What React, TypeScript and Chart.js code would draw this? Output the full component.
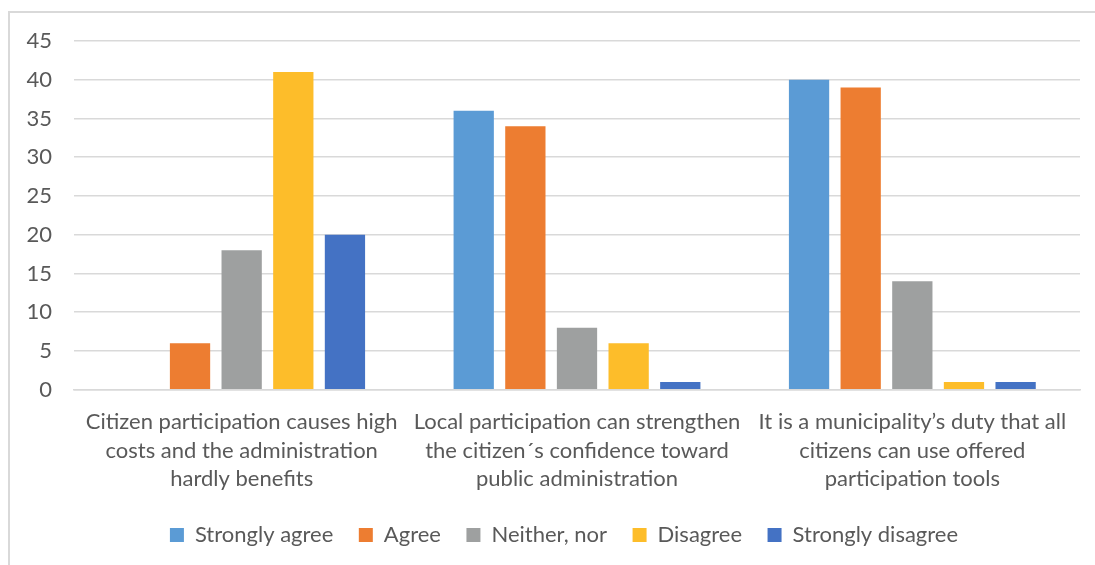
import React, { useEffect, useRef } from "react";
import { Chart, registerables } from "chart.js";

Chart.register(...registerables);

const categories: string[][] = [
  ["Citizen participation causes high", "costs and the administration", "hardly benefits"],
  ["Local participation can strengthen", "the citizen´s confidence toward", "public administration"],
  ["It is a municipality’s duty that all", "citizens can use offered", "participation tools"],
];

const seriesNames = ["Strongly agree", "Agree", "Neither, nor", "Disagree", "Strongly disagree"];
const stronglyAgree = [0, 36, 40];
const agree = [6, 34, 39];
const neitherNor = [18, 8, 14];
const disagree = [41, 6, 1];
const stronglyDisagree = [20, 1, 1];
const seriesColors = ["#5B9BD5", "#ED7D31", "#9EA0A0", "#FDBD2A", "#4472C4"];

const FONT = "Lato, 'Open Sans', sans-serif";

const legendShift = {
  id: "legendShift",
  afterLayout(chart: any) {
    if (chart.legend) {
      chart.legend.left += 19;
      chart.legend.right += 19;
    }
  },
};

export default function App() {
  const ref = useRef<HTMLCanvasElement | null>(null);
  useEffect(() => {
    document.body.style.overflow = "hidden";
    const values = [stronglyAgree, agree, neitherNor, disagree, stronglyDisagree];
    const chart = new Chart(ref.current!, {
      type: "bar",
      data: {
        labels: categories,
        datasets: seriesNames.map((n, i) => ({
          label: n,
          data: values[i],
          backgroundColor: seriesColors[i],
          barPercentage: 0.78,
          categoryPercentage: 0.77,
        })),
      },
      plugins: [legendShift],
      options: {
        animation: false,
        responsive: false,
        maintainAspectRatio: false,
        layout: { padding: { top: 28, right: 10, left: 0, bottom: 7 } },
        plugins: {
          tooltip: { enabled: false },
          legend: {
            position: "bottom",
            labels: {
              boxWidth: 14,
              boxHeight: 14,
              padding: 25.5,
              color: "#595959",
              font: { family: FONT, size: 22 },
            },
          },
        },
        scales: {
          x: {
            grid: { display: false },
            border: { color: "#d9d9d9", width: 1.5 },
            afterFit: (s: any) => { s.height -= 5; },
            ticks: {
              color: "#595959",
              font: { family: FONT, size: 22, lineHeight: 1.3 },
              padding: 10,
              maxRotation: 0,
              autoSkip: false,
            },
          },
          y: {
            min: 0,
            max: 45,
            afterFit: (s: any) => { s.width = 64; },
            grid: {
              color: "#d9d9d9",
              lineWidth: 1.5,
              drawTicks: true,
              tickLength: 10,
              tickColor: "rgba(0,0,0,0)",
            },
            border: { display: false },
            ticks: {
              stepSize: 5,
              color: "#595959",
              font: { family: FONT, size: 22 },
              padding: 12,
            },
          },
        },
      },
    });
    return () => chart.destroy();
  }, []);
  return (
    <div
      style={{
        position: "absolute",
        left: 8,
        top: 11,
        width: 1085,
        height: 552,
        borderTop: "2px solid #d9d9d9",
        borderLeft: "2px solid #d9d9d9",
      }}
    >
      <canvas ref={ref} width={1080} height={550} style={{ display: "block", width: 1080, height: 550 }} />
    </div>
  );
}
